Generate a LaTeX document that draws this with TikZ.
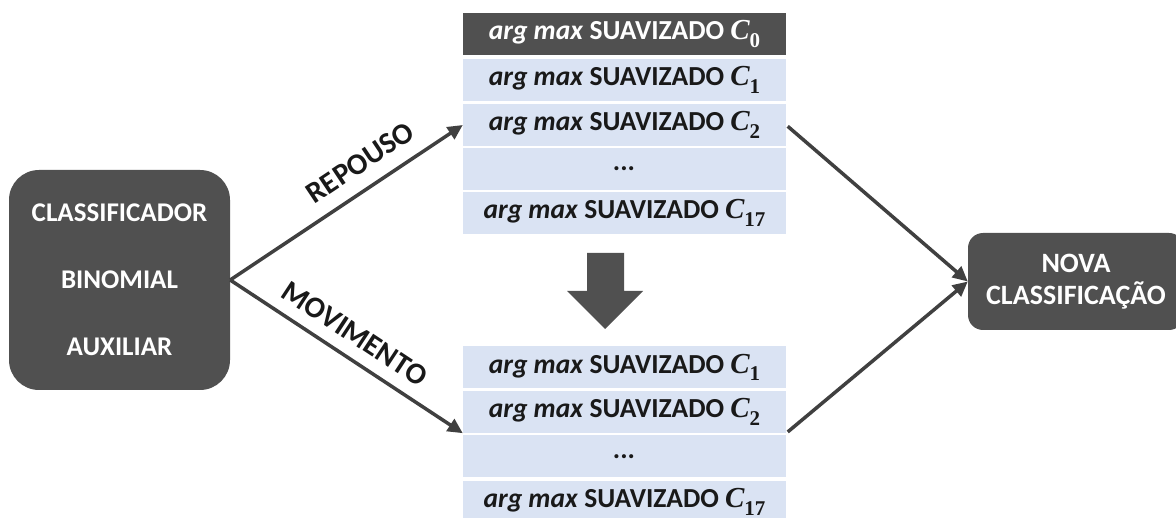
\documentclass[tikz,border=0pt]{standalone}
\usepackage{fontspec}
\setmainfont{Carlito}
\newfontfamily\symserif{Liberation Serif}
\usetikzlibrary{arrows.meta}
\definecolor{boxgray}{HTML}{505050}
\definecolor{rowblue}{HTML}{DAE3F3}
\definecolor{linegray}{HTML}{404040}
% class symbol C with a bold subscript index
\newcommand{\Csub}[1]{{\fontsize{29}{30}\selectfont\symserif\bfseries\itshape C}\raisebox{-0.55ex}{\fontsize{21}{21}\selectfont\symserif\bfseries #1}}
\newcommand{\amax}[1]{\textit{arg max} SUAVIZADO \Csub{#1}}
\begin{document}
\begin{tikzpicture}[x=1pt,y=-1pt,
  cell/.style={fill=rowblue, minimum width=323pt, minimum height=42pt, inner sep=0pt,
    font=\fontsize{27.5}{30}\selectfont\bfseries, text=black!90},
  headcell/.style={cell, fill=boxgray, text=white},
  darkbox/.style={fill=boxgray, text=white, align=center, inner sep=0pt},
  link/.style={draw=linegray, line width=3.5pt, -{Triangle[length=15pt,width=14pt]}},
  lbl/.style={font=\fontsize{30}{32}\selectfont\bfseries, text=black!90, sloped, inner sep=0pt}]

\useasboundingbox (0,0) rectangle (1176,518);
\fill[white] (0,0) rectangle (1176,518);

% left: auxiliary classifier
\node[darkbox, minimum width=221pt, minimum height=220pt, rounded corners=30pt,
  font=\fontsize{27}{67}\selectfont\bfseries] (clf) at (119.5,280)
  {CLASSIFICADOR\\BINOMIAL\\AUXILIAR};

% right: new classification
\node[darkbox, minimum width=216pt, minimum height=97pt, rounded corners=15pt,
  font=\fontsize{28}{32}\selectfont\bfseries] (nova) at (1076,281.5)
  {NOVA\\CLASSIFICAÇÃO};

% upper table (rest)
\node[headcell] (t0) at (624.5,34)  {\amax{0}};
\node[cell]     (t1) at (624.5,80)  {\amax{1}};
\node[cell]     (t2) at (624.5,125) {\amax{2}};
\node[cell]     (t3) at (624.5,169) {\textit{...}};
\node[cell]     (t4) at (624.5,213) {\amax{17}};

% lower table (movement)
\node[cell] (b1) at (624.5,367.5) {\amax{1}};
\node[cell] (b2) at (624.5,412)   {\amax{2}};
\node[cell] (b3) at (624.5,456.5) {\textit{...}};
\node[cell] (b4) at (624.5,502)   {\amax{17}};

% block arrow between the tables
\fill[boxgray] (587,253) -- (624,253) -- (624,291) -- (643,291) -- (605,329)
  -- (567,291) -- (587,291) -- cycle;

% connectors
\draw[link] (clf.east) -- (t2.west)
  node[lbl, pos=0.62, above=14pt] {REPOUSO};
\draw[link] (clf.east) -- (b2.south west)
  node[lbl, pos=0.48, above=12pt] {MOVIMENTO};
\draw[link, shorten <=2pt] (t2.east) -- (nova.west);
\draw[link, shorten <=2pt] (b2.south east) -- (nova.west);
\end{tikzpicture}
\end{document}
